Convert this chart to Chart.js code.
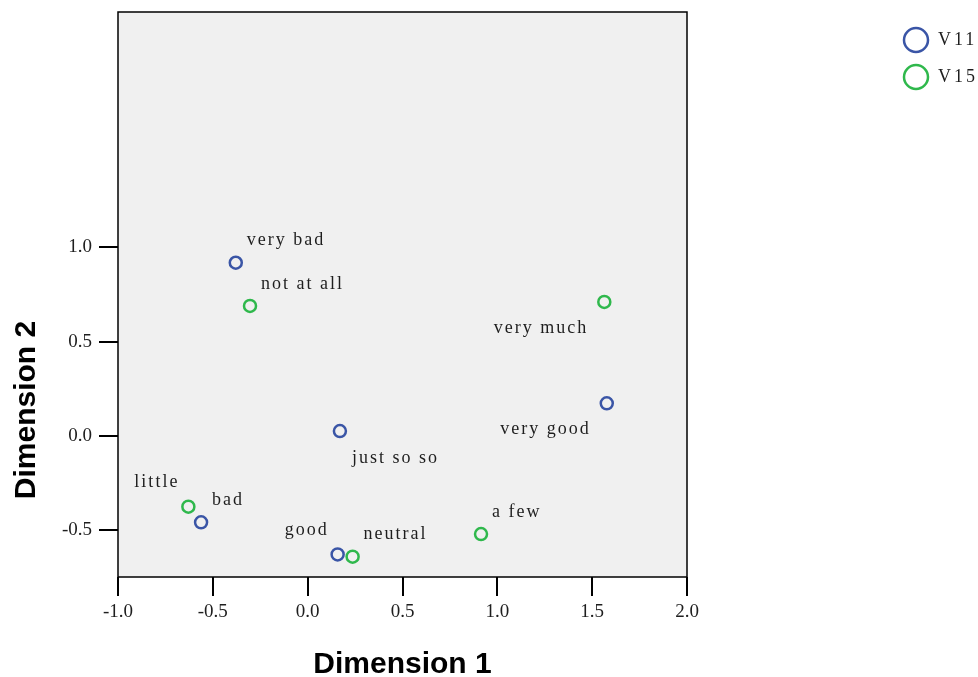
<!DOCTYPE html>
<html>
<head>
<meta charset="utf-8">
<script src="https://cdn.jsdelivr.net/npm/chart.js@4"></script>
<style>
    html, body { margin: 0; padding: 0; background: #ffffff; }
    #wrap { width: 978px; height: 677px; }
</style>
</head>
<body>
<div id="wrap"><canvas id="chart" width="978" height="677"></canvas></div>
<script>
// נתונים - נקודות הקטגוריות בשני הממדים
const seriesNames = ['V11', 'V15'];
const v11Labels = ['very bad', 'very good', 'just so so', 'bad', 'good'];
const v11Dim1 = [-0.379, 1.577, 0.170, -0.562, 0.158];
const v11Dim2 = [0.918, 0.172, 0.025, -0.459, -0.629];
const v15Labels = ['not at all', 'very much', 'little', 'neutral', 'a few'];
const v15Dim1 = [-0.304, 1.564, -0.629, 0.237, 0.914];
const v15Dim2 = [0.689, 0.710, -0.376, -0.641, -0.521];

const xTicks = [-1.0, -0.5, 0.0, 0.5, 1.0, 1.5, 2.0];
const yTicks = [-0.5, 0.0, 0.5, 1.0];
const xRange = [-1.0, 2.0];
const yRange = [-0.749, 2.248];

// מיקום התווית ביחס לנקודה (ne / nw / se / sw)
const v11Place = ['ne', 'sw', 'se', 'ne', 'nw'];
const v15Place = ['ne', 'sw', 'nw', 'ne', 'ne'];
const placeOffsets = {
    ne: { dx: 11, dy: -22, align: 'left' },
    nw: { dx: -9, dy: -24, align: 'right' },
    se: { dx: 12, dy: 27, align: 'left' },
    sw: { dx: -16, dy: 26, align: 'right' }
};

const blue = '#3a55a6';
const green = '#2fb84c';
const serif = '"Liberation Serif", "DejaVu Serif", serif';

function toPoints(xs, ys) {
    return xs.map((x, i) => ({ x: x, y: ys[i] }));
}

// רקע אפור, מסגרת, תוויות, מקרא וכותרות צירים
const decorPlugin = {
    id: 'decor',
    beforeDatasetsDraw(chart) {
        const { ctx, chartArea: a } = chart;
        ctx.save();
        ctx.fillStyle = '#f0f0f0';
        ctx.fillRect(a.left, a.top, a.right - a.left, a.bottom - a.top);
        ctx.restore();
    },
    afterDraw(chart) {
        const { ctx, chartArea: a } = chart;
        ctx.save();
        ctx.strokeStyle = '#000';
        ctx.lineWidth = 1.5;
        ctx.strokeRect(a.left, a.top, a.right - a.left, a.bottom - a.top);

        // תוויות הנקודות
        const labelSets = [[v11Labels, v11Place], [v15Labels, v15Place]];
        ctx.font = '18px ' + serif;
        ctx.fillStyle = '#1e1e1e';
        ctx.textBaseline = 'middle';
        if ('letterSpacing' in ctx) ctx.letterSpacing = '2px';
        labelSets.forEach(([labels, places], di) => {
            const meta = chart.getDatasetMeta(di);
            meta.data.forEach((pt, i) => {
                const off = placeOffsets[places[i]];
                ctx.textAlign = off.align;
                ctx.fillText(labels[i], pt.x + off.dx, pt.y + off.dy);
            });
        });

        // מקרא
        const colors = [blue, green];
        if ('letterSpacing' in ctx) ctx.letterSpacing = '3px';
        ctx.textAlign = 'left';
        seriesNames.forEach((name, i) => {
            const cy = 40 + i * 37;
            ctx.beginPath();
            ctx.arc(916, cy, 12, 0, Math.PI * 2);
            ctx.strokeStyle = colors[i];
            ctx.lineWidth = 2.5;
            ctx.stroke();
            ctx.fillStyle = '#1e1e1e';
            ctx.fillText(name, 938, cy);
        });
        if ('letterSpacing' in ctx) ctx.letterSpacing = '0px';

        // כותרות צירים
        ctx.fillStyle = '#000';
        ctx.font = 'bold 30px "Liberation Sans", Arial, sans-serif';
        ctx.textAlign = 'center';
        ctx.textBaseline = 'alphabetic';
        ctx.fillText('Dimension 1', (a.left + a.right) / 2, 673);
        ctx.translate(35, 410);
        ctx.rotate(-Math.PI / 2);
        ctx.fillText('Dimension 2', 0, 0);
        ctx.restore();
    }
};

const ctx = document.getElementById('chart').getContext('2d');

new Chart(ctx, {
    type: 'scatter',
    data: {
        datasets: [
            {
                label: seriesNames[0],
                data: toPoints(v11Dim1, v11Dim2),
                borderColor: blue,
                backgroundColor: 'rgba(0,0,0,0)',
                pointRadius: 6,
                pointBorderWidth: 2.5
            },
            {
                label: seriesNames[1],
                data: toPoints(v15Dim1, v15Dim2),
                borderColor: green,
                backgroundColor: 'rgba(0,0,0,0)',
                pointRadius: 6,
                pointBorderWidth: 2.5
            }
        ]
    },
    options: {
        responsive: false,
        animation: false,
        layout: { padding: { top: 12, right: 291, left: 0, bottom: 0 } },
        plugins: {
            legend: { display: false },
            tooltip: { enabled: false }
        },
        scales: {
            x: {
                type: 'linear',
                min: xRange[0],
                max: xRange[1],
                afterBuildTicks: s => { s.ticks = xTicks.map(v => ({ value: v })); },
                afterFit: s => { s.height = 100; s.paddingLeft = 0; s.paddingRight = 0; },
                grid: { drawOnChartArea: false, drawTicks: true, tickLength: 19, color: '#000', lineWidth: 2 },
                border: { display: false },
                ticks: {
                    color: '#1e1e1e',
                    font: { family: serif, size: 19 },
                    padding: 5,
                    maxRotation: 0,
                    callback: v => v.toFixed(1)
                }
            },
            y: {
                type: 'linear',
                min: yRange[0],
                max: yRange[1],
                afterBuildTicks: s => { s.ticks = yTicks.map(v => ({ value: v })); },
                afterFit: s => { s.width = 118; s.paddingTop = 0; s.paddingBottom = 0; },
                grid: { drawOnChartArea: false, drawTicks: true, tickLength: 19, color: '#000', lineWidth: 2 },
                border: { display: false },
                ticks: {
                    color: '#1e1e1e',
                    font: { family: serif, size: 19 },
                    padding: 7,
                    callback: v => v.toFixed(1)
                }
            }
        }
    },
    plugins: [decorPlugin]
});
</script>
</body>
</html>
